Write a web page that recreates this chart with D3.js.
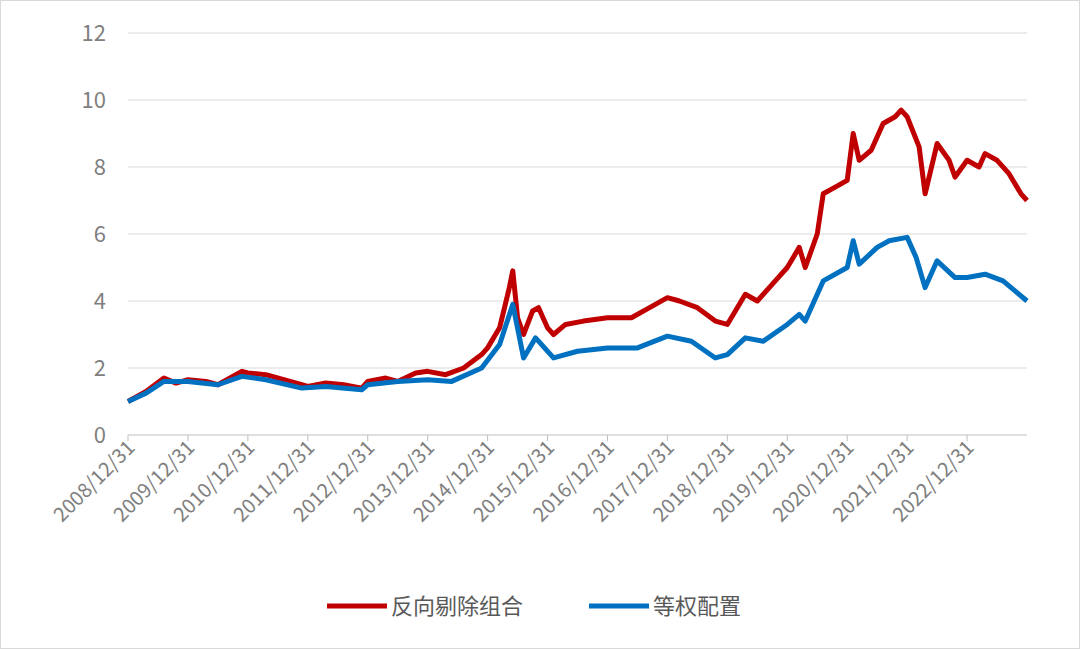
<!DOCTYPE html><html><head><meta charset="utf-8"><script src="https://cdn.jsdelivr.net/npm/d3@7"></script>
<style>body{margin:0;background:#fff}svg{display:block}</style></head><body><svg id="c" width="1080" height="649"></svg><script>
const yearTicks=["2008/12/31","2009/12/31","2010/12/31","2011/12/31","2012/12/31","2013/12/31","2014/12/31","2015/12/31","2016/12/31","2017/12/31","2018/12/31","2019/12/31","2020/12/31","2021/12/31","2022/12/31"];
const yTicks=[0,2,4,6,8,10,12];
const seriesNames=["反向剔除组合","等权配置"];
const redT=[2009.0,2009.3,2009.6,2009.8,2010.0,2010.3,2010.5,2010.8,2010.9,2011.0,2011.3,2011.6,2011.9,2012.0,2012.3,2012.6,2012.9,2013.0,2013.3,2013.5,2013.8,2014.0,2014.3,2014.6,2014.9,2015.0,2015.2,2015.35,2015.42,2015.5,2015.6,2015.75,2015.85,2016.0,2016.1,2016.3,2016.6,2017.0,2017.4,2017.8,2018.0,2018.2,2018.5,2018.8,2019.0,2019.3,2019.5,2019.8,2020.0,2020.2,2020.3,2020.5,2020.6,2020.8,2021.0,2021.1,2021.2,2021.4,2021.6,2021.8,2021.9,2022.0,2022.2,2022.3,2022.5,2022.7,2022.8,2023.0,2023.2,2023.3,2023.5,2023.7,2023.9,2024.0];
const redV=[1.0,1.3,1.7,1.55,1.65,1.6,1.5,1.8,1.9,1.85,1.8,1.65,1.5,1.45,1.55,1.5,1.4,1.6,1.7,1.6,1.85,1.9,1.8,2.0,2.4,2.6,3.2,4.3,4.9,3.5,3.0,3.7,3.8,3.2,3.0,3.3,3.4,3.5,3.5,3.9,4.1,4.0,3.8,3.4,3.3,4.2,4.0,4.6,5.0,5.6,5.0,6.0,7.2,7.4,7.6,9.0,8.2,8.5,9.3,9.5,9.7,9.5,8.6,7.2,8.7,8.2,7.7,8.2,8.0,8.4,8.2,7.8,7.2,7.0];
const blueT=[2009.0,2009.3,2009.6,2010.0,2010.5,2010.9,2011.3,2011.9,2012.3,2012.9,2013.0,2013.5,2014.0,2014.4,2014.9,2015.2,2015.42,2015.6,2015.8,2016.1,2016.5,2017.0,2017.5,2018.0,2018.4,2018.8,2019.0,2019.3,2019.6,2020.0,2020.2,2020.3,2020.6,2021.0,2021.1,2021.2,2021.5,2021.7,2022.0,2022.15,2022.3,2022.5,2022.8,2023.0,2023.3,2023.6,2023.8,2024.0];
const blueV=[1.0,1.25,1.6,1.6,1.5,1.75,1.65,1.4,1.45,1.35,1.5,1.6,1.65,1.6,2.0,2.7,3.9,2.3,2.9,2.3,2.5,2.6,2.6,2.95,2.8,2.3,2.4,2.9,2.8,3.3,3.6,3.4,4.6,5.0,5.8,5.1,5.6,5.8,5.9,5.3,4.4,5.2,4.7,4.7,4.8,4.6,4.3,4.0];
const svg=d3.select("#c");
svg.append("rect").attr("x",0.5).attr("y",0.5).attr("width",1079).attr("height",648).attr("fill","#fff").attr("stroke","#d9d9d9");
const x=d3.scaleLinear().domain([2009,2024]).range([128,1027]);
const y=d3.scaleLinear().domain([0,12]).range([435,33]);
const g=svg.append("g");
const F="Noto Sans CJK SC, sans-serif";
yTicks.forEach(t=>{if(t>0)g.append("line").attr("x1",128).attr("x2",1027).attr("y1",y(t)).attr("y2",y(t)).attr("stroke","#d9d9d9");
 g.append("text").attr("x",106).attr("y",y(t)+8).attr("text-anchor","end").attr("font-family",F).attr("font-size",22).attr("fill","#7f7f7f").text(t);});
g.append("line").attr("x1",128).attr("x2",1027).attr("y1",435).attr("y2",435).attr("stroke","#bfbfbf");
yearTicks.forEach((t,i)=>{const xx=x(2009+i);
 g.append("line").attr("x1",xx).attr("x2",xx).attr("y1",435).attr("y2",441).attr("stroke","#bfbfbf");
 g.append("text").attr("transform",`translate(${xx+8},${449}) rotate(-45)`).attr("text-anchor","end").attr("font-family",F).attr("font-size",20).attr("fill","#7f7f7f").text(t);});
const line=d3.line().x(d=>x(d[0])).y(d=>y(d[1]));
g.append("path").datum(redT.map((t,i)=>[t,redV[i]])).attr("d",line).attr("fill","none").attr("stroke","#c00000").attr("stroke-width",5).attr("stroke-linejoin","round");
g.append("path").datum(blueT.map((t,i)=>[t,blueV[i]])).attr("d",line).attr("fill","none").attr("stroke","#0070c0").attr("stroke-width",5).attr("stroke-linejoin","round");
const cols=["#c00000","#0070c0"],lx=[327,589];
seriesNames.forEach((n,i)=>{g.append("line").attr("x1",lx[i]).attr("x2",lx[i]+60).attr("y1",606).attr("y2",606).attr("stroke",cols[i]).attr("stroke-width",5);
 g.append("text").attr("x",lx[i]+64).attr("y",614).attr("font-family",F).attr("font-size",22).attr("fill","#595959").text(n);});
</script></body></html>
